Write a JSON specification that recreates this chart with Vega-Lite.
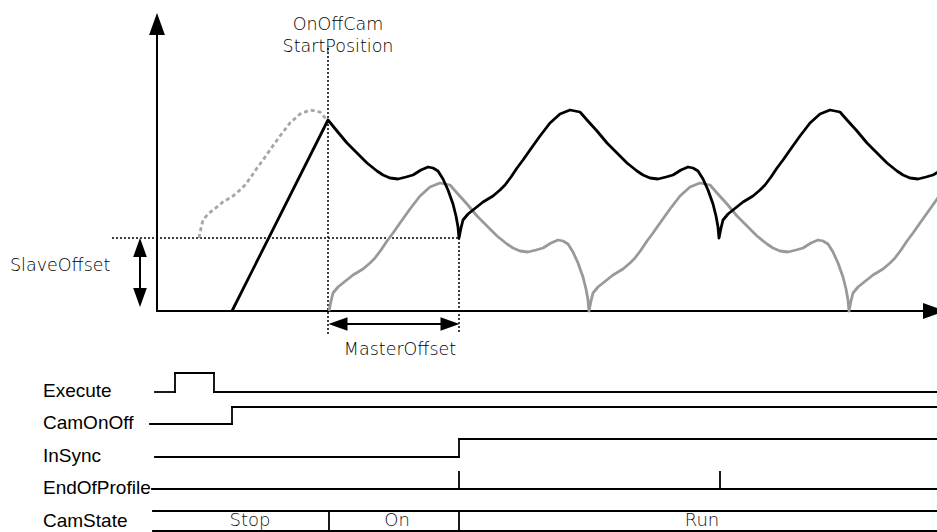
{
  "$schema": "https://vega.github.io/schema/vega-lite/v6.json",
  "width": 937,
  "height": 532,
  "autosize": {"type": "none"},
  "padding": 0,
  "background": "white",
  "config": {"view": {"stroke": null}},
  "datasets": {
    "black": [
      {"x":232,"y":311},{"x":328,"y":120},{"x":337,"y":131},{"x":347,"y":143},{"x":357,"y":153},{"x":367,"y":163},{"x":377,"y":171},{"x":383,"y":175},{"x":390,"y":178},{"x":398,"y":179},{"x":406,"y":177},{"x":413,"y":175},{"x":421,"y":170},{"x":428,"y":167},{"x":433,"y":168},{"x":438,"y":171},{"x":443,"y":179},{"x":448,"y":190},{"x":453,"y":204},{"x":456,"y":216},{"x":458,"y":227},{"x":459,"y":238},
      {"x":461,"y":228},{"x":463,"y":220},{"x":468,"y":214},{"x":473,"y":210},{"x":483,"y":202},{"x":493,"y":196},{"x":500,"y":190},{"x":505,"y":185},{"x":511,"y":177},{"x":517,"y":168},{"x":523,"y":160},{"x":530,"y":150},{"x":540,"y":136},{"x":550,"y":123},{"x":560,"y":114},{"x":570,"y":110},{"x":580,"y":112},{"x":587,"y":120},{"x":597,"y":131},{"x":607,"y":143},{"x":617,"y":153},{"x":627,"y":163},{"x":637,"y":171},{"x":643,"y":175},{"x":650,"y":178},{"x":658,"y":179},{"x":666,"y":177},{"x":673,"y":175},{"x":681,"y":170},{"x":688,"y":167},{"x":693,"y":168},{"x":698,"y":171},{"x":703,"y":179},{"x":708,"y":190},{"x":713,"y":204},{"x":716,"y":216},{"x":718,"y":227},{"x":719,"y":238},
      {"x":721,"y":228},{"x":723,"y":220},{"x":728,"y":214},{"x":733,"y":210},{"x":743,"y":202},{"x":753,"y":196},{"x":760,"y":190},{"x":765,"y":185},{"x":771,"y":177},{"x":777,"y":168},{"x":783,"y":160},{"x":790,"y":150},{"x":800,"y":136},{"x":810,"y":123},{"x":820,"y":114},{"x":830,"y":110},{"x":840,"y":112},{"x":847,"y":120},{"x":857,"y":131},{"x":867,"y":143},{"x":877,"y":153},{"x":887,"y":163},{"x":897,"y":171},{"x":903,"y":175},{"x":910,"y":178},{"x":918,"y":179},{"x":926,"y":177},{"x":933,"y":175},{"x":940,"y":171}
    ],
    "gray": [
      {"x":329,"y":311},{"x":331,"y":301},{"x":333,"y":293},{"x":338,"y":287},{"x":343,"y":283},{"x":353,"y":275},{"x":363,"y":269},{"x":370,"y":263},{"x":375,"y":258},{"x":381,"y":250},{"x":387,"y":241},{"x":393,"y":233},{"x":400,"y":223},{"x":410,"y":209},{"x":420,"y":196},{"x":430,"y":187},{"x":440,"y":183},{"x":450,"y":185},{"x":457,"y":193},{"x":467,"y":204},{"x":477,"y":216},{"x":487,"y":226},{"x":497,"y":236},{"x":507,"y":244},{"x":513,"y":248},{"x":520,"y":251},{"x":528,"y":252},{"x":536,"y":250},{"x":543,"y":248},{"x":551,"y":243},{"x":558,"y":240},{"x":563,"y":241},{"x":568,"y":244},{"x":573,"y":252},{"x":578,"y":263},{"x":583,"y":277},{"x":586,"y":289},{"x":588,"y":300},{"x":589,"y":311},
      {"x":591,"y":301},{"x":593,"y":293},{"x":598,"y":287},{"x":603,"y":283},{"x":613,"y":275},{"x":623,"y":269},{"x":630,"y":263},{"x":635,"y":258},{"x":641,"y":250},{"x":647,"y":241},{"x":653,"y":233},{"x":660,"y":223},{"x":670,"y":209},{"x":680,"y":196},{"x":690,"y":187},{"x":700,"y":183},{"x":710,"y":185},{"x":717,"y":193},{"x":727,"y":204},{"x":737,"y":216},{"x":747,"y":226},{"x":757,"y":236},{"x":767,"y":244},{"x":773,"y":248},{"x":780,"y":251},{"x":788,"y":252},{"x":796,"y":250},{"x":803,"y":248},{"x":811,"y":243},{"x":818,"y":240},{"x":823,"y":241},{"x":828,"y":244},{"x":833,"y":252},{"x":838,"y":263},{"x":843,"y":277},{"x":846,"y":289},{"x":848,"y":300},{"x":849,"y":311},
      {"x":851,"y":301},{"x":853,"y":293},{"x":858,"y":287},{"x":863,"y":283},{"x":873,"y":275},{"x":883,"y":269},{"x":890,"y":263},{"x":895,"y":258},{"x":901,"y":250},{"x":907,"y":241},{"x":913,"y":233},{"x":920,"y":223},{"x":930,"y":209},{"x":940,"y":195}
    ],
    "dashed": [
      {"x":199,"y":238},{"x":201,"y":228},{"x":203,"y":220},{"x":208,"y":214},{"x":213,"y":210},{"x":223,"y":202},{"x":233,"y":196},{"x":240,"y":190},{"x":245,"y":185},{"x":251,"y":177},{"x":257,"y":168},{"x":263,"y":160},{"x":270,"y":150},{"x":280,"y":136},{"x":290,"y":123},{"x":300,"y":114},{"x":310,"y":110},{"x":320,"y":112},{"x":327,"y":120}
    ],
    "axes": [
      {"x":157,"y":30,"x2":157,"y2":312},
      {"x":156,"y":311,"x2":926,"y2":311}
    ],
    "dotted": [
      {"x":328,"y":48,"x2":328,"y2":334},
      {"x":459,"y":238,"x2":459,"y2":334},
      {"x":112,"y":238,"x2":459,"y2":238}
    ],
    "dims": [
      {"x":140,"y":252,"x2":140,"y2":294},
      {"x":342,"y":324,"x2":446,"y2":324}
    ],
    "bigArrows": [
      {"x":157,"y":24,"dir":"up"},
      {"x":934,"y":311,"dir":"right"}
    ],
    "smallArrows": [
      {"x":140,"y":247.5,"dir":"up"},
      {"x":140,"y":297.5,"dir":"down"},
      {"x":338,"y":324,"dir":"left"},
      {"x":450,"y":324,"dir":"right"}
    ],
    "signals": [
      {"x":155,"y":392,"x2":175,"y2":392},
      {"x":175,"y":392,"x2":175,"y2":373},
      {"x":175,"y":373,"x2":214,"y2":373},
      {"x":214,"y":373,"x2":214,"y2":392},
      {"x":214,"y":392,"x2":940,"y2":392},
      {"x":150,"y":424,"x2":232,"y2":424},
      {"x":232,"y":424,"x2":232,"y2":407},
      {"x":232,"y":407,"x2":940,"y2":407},
      {"x":155,"y":457,"x2":459,"y2":457},
      {"x":459,"y":457,"x2":459,"y2":439},
      {"x":459,"y":439,"x2":940,"y2":439},
      {"x":152,"y":489,"x2":940,"y2":489},
      {"x":459,"y":489,"x2":459,"y2":472},
      {"x":720,"y":489,"x2":720,"y2":472},
      {"x":153,"y":511,"x2":940,"y2":511},
      {"x":153,"y":531,"x2":940,"y2":531},
      {"x":329,"y":511,"x2":329,"y2":531},
      {"x":459,"y":511,"x2":459,"y2":531}
    ],
    "annotCenter": [
      {"x":338,"y":25,"text":"OnOffCam"},
      {"x":338,"y":47,"text":"StartPosition"},
      {"x":400,"y":350,"text":"MasterOffset"}
    ],
    "annotLeft": [
      {"x":10,"y":266,"text":"SlaveOffset"}
    ],
    "sigLabels": [
      {"x":43,"y":391,"text":"Execute"},
      {"x":43,"y":423,"text":"CamOnOff"},
      {"x":43,"y":456,"text":"InSync"},
      {"x":43,"y":488,"text":"EndOfProfile"},
      {"x":43,"y":521,"text":"CamState"}
    ],
    "states": [
      {"x":250,"y":521,"text":"Stop"},
      {"x":397,"y":521,"text":"On"},
      {"x":702,"y":521,"text":"Run"}
    ]
  },
  "encoding": {
    "x": {"field": "x", "type": "quantitative", "scale": {"domain": [0, 937], "nice": false, "zero": false}, "axis": null},
    "y": {"field": "y", "type": "quantitative", "scale": {"domain": [0, 532], "nice": false, "zero": false, "reverse": true}, "axis": null}
  },
  "layer": [
    {"data": {"name": "axes"}, "mark": {"type": "rule", "color": "black", "strokeWidth": 2}, "encoding": {"x2": {"field": "x2"}, "y2": {"field": "y2"}}},
    {"data": {"name": "dotted"}, "mark": {"type": "rule", "color": "black", "strokeWidth": 1.5, "strokeDash": [2, 2]}, "encoding": {"x2": {"field": "x2"}, "y2": {"field": "y2"}}},
    {"data": {"name": "dims"}, "mark": {"type": "rule", "color": "black", "strokeWidth": 2}, "encoding": {"x2": {"field": "x2"}, "y2": {"field": "y2"}}},
    {"data": {"name": "signals"}, "mark": {"type": "rule", "color": "black", "strokeWidth": 1.8, "strokeCap": "square"}, "encoding": {"x2": {"field": "x2"}, "y2": {"field": "y2"}}},
    {"data": {"name": "dashed"}, "mark": {"type": "line", "color": "#a6a6a6", "strokeWidth": 2.8, "strokeDash": [4, 3]}, "encoding": {}},
    {"data": {"name": "gray"}, "mark": {"type": "line", "color": "#999999", "strokeWidth": 2.8, "strokeJoin": "round"}, "encoding": {}},
    {"data": {"name": "black"}, "mark": {"type": "line", "color": "black", "strokeWidth": 2.8, "strokeJoin": "round"}, "encoding": {}},
    {"data": {"name": "bigArrows"}, "mark": {"type": "point", "filled": true, "color": "black", "opacity": 1, "strokeWidth": 0, "size": 484},
     "encoding": {"shape": {"field": "dir", "type": "nominal", "legend": null, "scale": {"domain": ["up", "down", "left", "right"], "range": ["M0,-1L0.72,1L-0.72,1Z", "M0,1L0.72,-1L-0.72,-1Z", "M-1,0L1,0.72L1,-0.72Z", "M1,0L-1,0.72L-1,-0.72Z"]}}}},
    {"data": {"name": "smallArrows"}, "mark": {"type": "point", "filled": true, "color": "black", "opacity": 1, "strokeWidth": 0, "size": 361},
     "encoding": {"shape": {"field": "dir", "type": "nominal", "legend": null, "scale": {"domain": ["up", "down", "left", "right"], "range": ["M0,-1L0.66,1L-0.66,1Z", "M0,1L0.66,-1L-0.66,-1Z", "M-1,0L1,0.66L1,-0.66Z", "M1,0L-1,0.66L-1,-0.66Z"]}}}},
    {"data": {"name": "annotCenter"}, "mark": {"type": "text", "font": "DejaVu Sans", "fontWeight": 200, "fontSize": 17.5, "color": "#000000", "align": "center", "baseline": "middle"}, "encoding": {"text": {"field": "text"}}},
    {"data": {"name": "annotLeft"}, "mark": {"type": "text", "font": "DejaVu Sans", "fontWeight": 200, "fontSize": 17.5, "color": "#000000", "align": "left", "baseline": "middle"}, "encoding": {"text": {"field": "text"}}},
    {"data": {"name": "sigLabels"}, "mark": {"type": "text", "font": "Liberation Sans", "fontSize": 19, "color": "black", "align": "left", "baseline": "middle"}, "encoding": {"text": {"field": "text"}}},
    {"data": {"name": "states"}, "mark": {"type": "text", "font": "DejaVu Sans", "fontWeight": 200, "fontSize": 18, "color": "#111111", "align": "center", "baseline": "middle"}, "encoding": {"text": {"field": "text"}}}
  ]
}
